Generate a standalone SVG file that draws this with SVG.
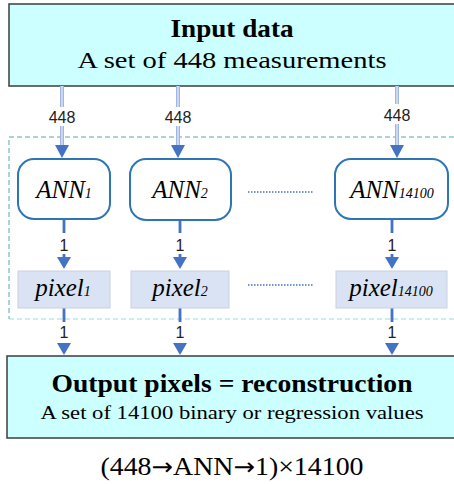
<svg xmlns="http://www.w3.org/2000/svg" width="454" height="484" viewBox="0 0 454 484">
<defs>
<style>
.big{fill:#ccffff;stroke:#3c3c3c;stroke-width:1.5}
.ann{fill:#fff;stroke:#2e75b6;stroke-width:2}
.pix{fill:#dae3f3;stroke:#c9d0de;stroke-width:1}
.serif{font-family:"Liberation Serif","Times New Roman",serif;fill:#000}
.lbl{font-family:"Liberation Sans",Arial,sans-serif;font-size:16px;fill:#222;text-anchor:middle}
.dbl1{stroke:#9fb5e2;stroke-width:4;fill:none}
.dbl2{stroke:#e4eaf7;stroke-width:1.3;fill:none}
.sol{stroke:#4472c4;stroke-width:2.8;fill:none}
.head{fill:#4472c4}
.dots{stroke:#4472c4;stroke-width:1.3;stroke-dasharray:1.5 1.5;fill:none}
.arr{font-family:"DejaVu Sans",sans-serif;font-size:24px}
</style>
</defs>

<g id="grouping">
<path d="M454,137 H9 V319" fill="none" stroke="#5aa8a8" stroke-width="1" stroke-dasharray="5 3"/>
<path d="M9,319 H454" fill="none" stroke="#99dcdc" stroke-width="1.2" stroke-dasharray="5 3"/>
</g>

<g id="input">
<rect class="big" x="9" y="4" width="450" height="82"/>
<text class="serif" x="232" y="37" font-size="25" font-weight="bold" text-anchor="middle" textLength="123" lengthAdjust="spacingAndGlyphs">Input data</text>
<text class="serif" x="232" y="68" font-size="23" text-anchor="middle" textLength="309" lengthAdjust="spacingAndGlyphs">A set of 448 measurements</text>
</g>

<g id="connectors">
<path class="dbl1" d="M62,86 V107 M62,126 V146 M178,86 V107 M178,126 V146 M397,86 V104 M397,124 V146"/>
<path class="dbl2" d="M62,86 V107 M62,126 V146 M178,86 V107 M178,126 V146 M397,86 V104 M397,124 V146"/>
<polygon class="head" points="55,145 69,145 62,158"/>
<polygon class="head" points="171,145 185,145 178,158"/>
<polygon class="head" points="390,145 404,145 397,158"/>
<text class="lbl" x="62" y="123">448</text>
<text class="lbl" x="178" y="123">448</text>
<text class="lbl" x="397" y="121">448</text>
<path class="sol" d="M64,220 V233 M180,220 V233 M392,220 V233 M64,254 V258 M180,254 V258 M392,254 V258"/>
<polygon class="head" points="57,257 71,257 64,269"/>
<polygon class="head" points="173,257 187,257 180,269"/>
<polygon class="head" points="385,257 399,257 392,269"/>
<text class="lbl" x="64" y="251">1</text>
<text class="lbl" x="180" y="251">1</text>
<text class="lbl" x="392" y="251">1</text>
<path class="sol" d="M64,308 V322 M180,308 V322 M392,308 V322"/>
<polygon class="head" points="57,343 71,343 64,355"/>
<polygon class="head" points="173,343 187,343 180,355"/>
<polygon class="head" points="385,343 399,343 392,355"/>
<text class="lbl" x="64" y="338">1</text>
<text class="lbl" x="180" y="338">1</text>
<text class="lbl" x="392" y="338">1</text>
<path class="dots" d="M248,192 H313 M248,285 H313"/>
</g>

<g id="ann1">
<rect class="ann" x="18" y="159" width="92" height="60" rx="16"/>
<text class="serif" x="64" y="198" font-size="25" font-style="italic" text-anchor="middle">ANN<tspan font-size="14">1</tspan></text>
</g>
<g id="ann2">
<rect class="ann" x="130" y="159" width="101" height="61" rx="16"/>
<text class="serif" x="180" y="198" font-size="25" font-style="italic" text-anchor="middle">ANN<tspan font-size="14">2</tspan></text>
</g>
<g id="ann14100">
<rect class="ann" x="335" y="159" width="113" height="60" rx="16"/>
<text class="serif" x="392" y="198" font-size="25" font-style="italic" text-anchor="middle">ANN<tspan font-size="14">14100</tspan></text>
</g>

<g id="pixel1">
<rect class="pix" x="18" y="271" width="92" height="37"/>
<text class="serif" x="63" y="296" font-size="25" font-style="italic" text-anchor="middle">pixel<tspan font-size="14">1</tspan></text>
</g>
<g id="pixel2">
<rect class="pix" x="131" y="271" width="98" height="37"/>
<text class="serif" x="180" y="296" font-size="25" font-style="italic" text-anchor="middle">pixel<tspan font-size="14">2</tspan></text>
</g>
<g id="pixel14100">
<rect class="pix" x="336" y="271" width="111" height="37"/>
<text class="serif" x="391" y="296" font-size="25" font-style="italic" text-anchor="middle">pixel<tspan font-size="14">14100</tspan></text>
</g>

<g id="output">
<rect class="big" x="7" y="356" width="452" height="82"/>
<text class="serif" x="232" y="392" font-size="25" font-weight="bold" text-anchor="middle" textLength="361" lengthAdjust="spacingAndGlyphs">Output pixels = reconstruction</text>
<text class="serif" x="232" y="419" font-size="18" text-anchor="middle" textLength="383" lengthAdjust="spacingAndGlyphs">A set of 14100 binary or regression values</text>
</g>

<g id="formula">
<text class="serif" x="232" y="475" font-size="26" text-anchor="middle" textLength="263" lengthAdjust="spacingAndGlyphs">(448<tspan class="arr">→</tspan>ANN<tspan class="arr">→</tspan>1)×14100</text>
</g>
</svg>
